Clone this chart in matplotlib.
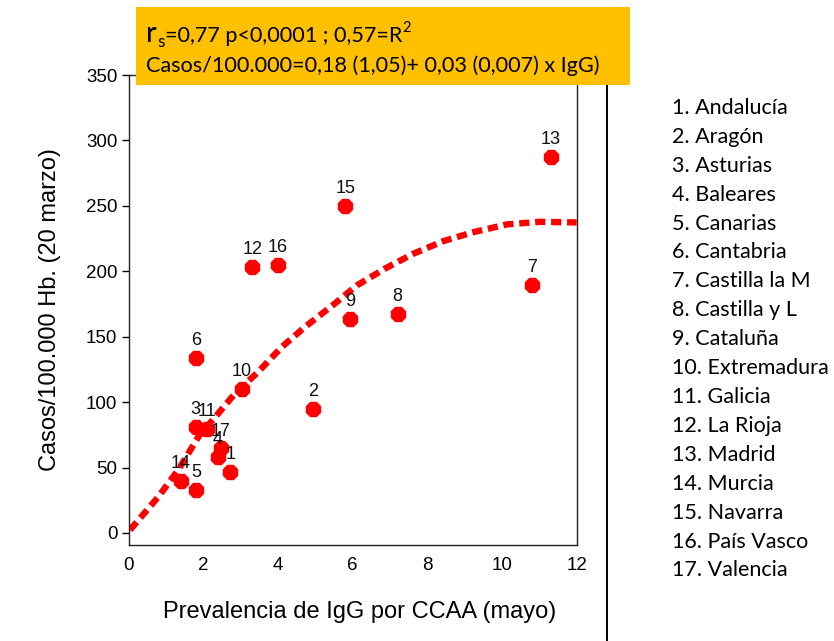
import matplotlib
matplotlib.use("Agg")
import matplotlib.pyplot as plt
from matplotlib.patches import Rectangle
from matplotlib.lines import Line2D

W, H = 834, 641

# datos por comunidad autonoma
ccaa_num = [1, 2, 3, 4, 5, 6, 7, 8, 9, 10, 11, 12, 13, 14, 15, 16, 17]
igg = [2.72, 4.93, 1.80, 2.39, 1.81, 1.81, 10.79, 7.20, 5.92, 3.03,
       2.11, 3.31, 11.30, 1.40, 5.80, 4.00, 2.47]
casos = [46.8, 94.8, 81.1, 57.8, 32.6, 133.8, 189.8, 167.6, 163.5, 109.9,
         79.6, 203.5, 287.4, 39.7, 249.7, 204.7, 64.6]

# curva de ajuste (puntos leidos)
curva_x = [0.04, 0.80, 1.33, 1.87, 2.40, 2.85, 3.47, 4.10, 4.72, 5.52,
           6.11, 6.86, 7.62, 8.42, 9.23, 10.12, 11.01, 11.99]
curva_y = [2.3, 27.7, 48.1, 73.5, 91.3, 106.6, 123.1, 142.1, 157.4, 175.3,
           189.2, 202.0, 213.4, 223.0, 229.9, 235.8, 237.8, 237.3]

nombres = ["Andalucía", "Aragón", "Asturias", "Baleares", "Canarias",
           "Cantabria", "Castilla la M", "Castilla y L", "Cataluña",
           "Extremadura", "Galicia", "La Rioja", "Madrid", "Murcia",
           "Navarra", "País Vasco", "Valencia"]

xticks = [0, 2, 4, 6, 8, 10, 12]
yticks = [0, 50, 100, 150, 200, 250, 300, 350]

plt.rcParams['font.family'] = ['Liberation Sans', 'DejaVu Sans']

fig = plt.figure(figsize=(W / 100, H / 100), dpi=100)

def px(x, y):
    return x / W, 1 - y / H

l, b = 128.5 / W, (H - 545) / H
ax = fig.add_axes([l, b, 577 / W - l, (H - 75) / H - b])

ax.plot(curva_x, curva_y, color='#ff0000', lw=4.6,
        linestyle=(0, (1.6, 0.9)), dash_capstyle='butt', zorder=2)
ax.plot(igg, casos, linestyle='none', marker='8', ms=11,
        color='#ff0000', mec='#ff0000', zorder=3)
for n, xv, yv in zip(ccaa_num, igg, casos):
    ax.annotate(str(n), (xv, yv), xytext=(0, 12.5), textcoords='offset points',
                ha='center', va='center', fontsize=13, color='#111111')

ax.set_xlim(0, 12)
ax.set_ylim(-9.2, 350)
ax.set_xticks(xticks)
ax.set_yticks(yticks)
ax.tick_params(axis='y', direction='out', length=5, width=1, pad=3, labelsize=13.5)
ax.tick_params(axis='x', length=0, pad=9, labelsize=13.5)
for s in ax.spines.values():
    s.set_linewidth(1.0)
    s.set_color('#222222')

fig.text(*px(360, 612), "Prevalencia de IgG por CCAA (mayo)", ha='center',
         va='center', fontsize=17)
fig.text(*px(50, 310), "Casos/100.000 Hb. (20 marzo)", ha='center',
         va='center', fontsize=17, rotation=90)

# recuadro naranja
fig.patches.append(Rectangle(px(136, 85), (630 - 136) / W, 78 / H,
                             transform=fig.transFigure, facecolor='#ffc000',
                             edgecolor='none', zorder=5))

# linea separadora
fig.add_artist(Line2D([607 / W, 607 / W], [0, 1 - 85 / H], color='black',
                      lw=1.4, transform=fig.transFigure, zorder=5))

slide_font = ['Lato', 'DejaVu Sans']
fig.canvas.draw()
rend = fig.canvas.get_renderer()

def pieza(x, y, s, size):
    t = fig.text(x / W, 1 - y / H, s, fontsize=size, family=slide_font,
                 ha='left', va='baseline', zorder=6)
    ext = t.get_window_extent(rend)
    return ext.x1

x1 = pieza(146, 42, "r", 21)
x1 = pieza(x1 + 0.5, 47, "s", 12.5)
x1 = pieza(x1, 42, "=0,77 p<0,0001 ; 0,57=R", 15.6)
pieza(x1 + 0.5, 32, "2", 10.5)
pieza(146, 72, "Casos/100.000=0,18 (1,05)+ 0,03 (0,007) x IgG)", 15.6)

for i, nom in enumerate(nombres):
    fig.text(672 / W, 1 - (108 + i * 28.9) / H, f"{i + 1}. {nom}",
             fontsize=15.5, family=slide_font, ha='left', va='center')

fig.savefig("out.png", dpi=100)
